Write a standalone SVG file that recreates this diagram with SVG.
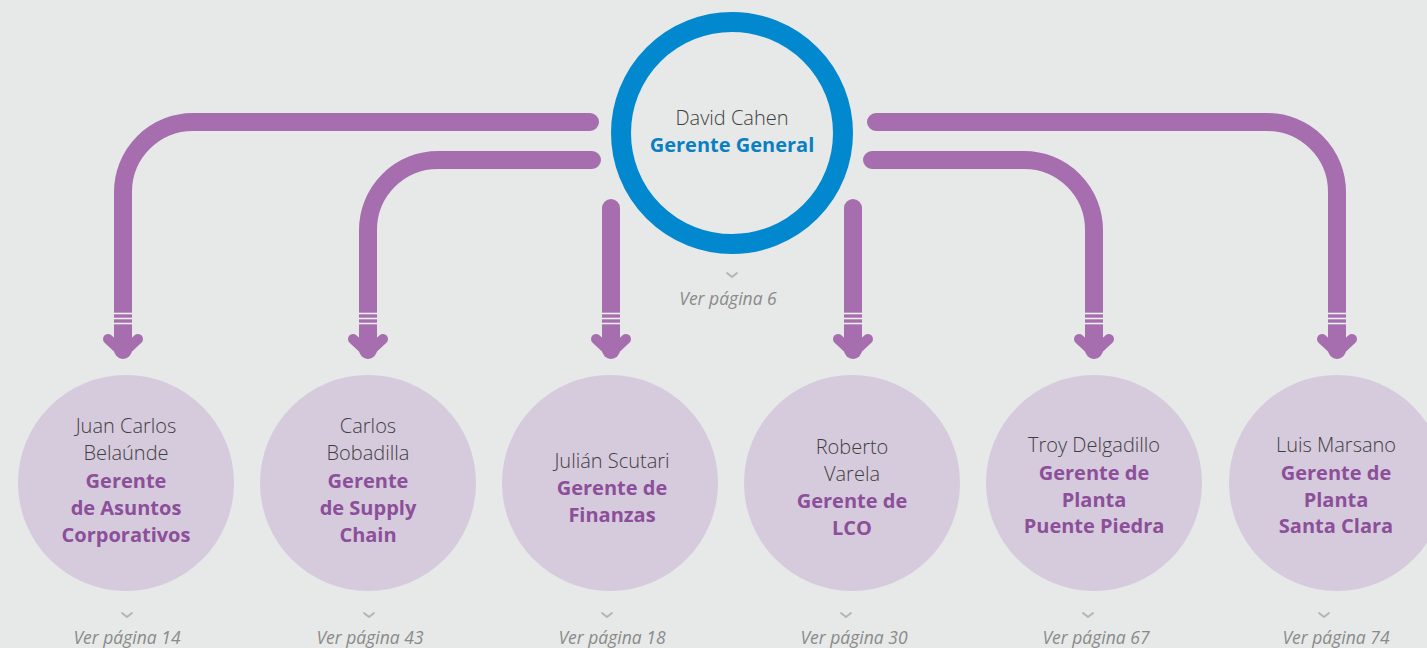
<svg xmlns="http://www.w3.org/2000/svg" width="1427" height="648" viewBox="0 0 1427 648">
<style>
.bg{fill:#e6e9e8}
.conn{fill:none;stroke:#a66eae;stroke-width:18;stroke-linecap:round;stroke-linejoin:round}
.head{fill:none;stroke:#a66eae;stroke-width:10;stroke-linecap:round;stroke-linejoin:round}
.stripe{stroke:#eef0ef;stroke-width:1.6}
.sub{fill:#d5c8dc;opacity:0.95}
.name{font-family:"Open Sans","Liberation Sans",sans-serif;font-weight:300;font-size:20px;fill:#3f3f3f;text-anchor:middle}
.title{font-family:"Open Sans","Liberation Sans",sans-serif;font-weight:700;font-size:20px;fill:#8c4f99;text-anchor:middle}
.gm{font-family:"Open Sans","Liberation Sans",sans-serif;font-weight:700;font-size:20px;fill:#0a7fc2;text-anchor:middle}
.ref{font-family:"Open Sans","Liberation Sans",sans-serif;font-style:italic;font-size:17.5px;fill:#8a8a8a;text-anchor:middle}
.chev{fill:none;stroke:#b4b6b6;stroke-width:2;stroke-linecap:round;stroke-linejoin:round}
</style>
<defs>
<radialGradient id="tex" cx="0.5" cy="0.5" r="0.7">
<stop offset="0" stop-color="#eaecec"/>
<stop offset="1" stop-color="#e2e5e4"/>
</radialGradient>
<g id="arrowEnd">
<line class="stripe" x1="-9" y1="0" x2="9" y2="0"/>
<line class="stripe" x1="-9" y1="5" x2="9" y2="5"/>
<line class="stripe" x1="-9" y1="10" x2="9" y2="10"/>
</g>
</defs>
<rect class="bg" x="0" y="0" width="1427" height="648" fill="url(#tex)"/>

<g id="connectors">
<path class="conn" d="M590,122 H193 A70,70 0 0 0 123,192 V350"/>
<path class="conn" d="M592,160 H438 A70,70 0 0 0 368,230 V350"/>
<path class="conn" d="M611,208 V350"/>
<path class="conn" d="M853,208 V350"/>
<path class="conn" d="M872,160 H1024 A70,70 0 0 1 1094,230 V350"/>
<path class="conn" d="M876,122 H1267 A70,70 0 0 1 1337,192 V350"/>
<path class="head" d="M108,339 L123,353 L138,339"/>
<path class="head" d="M353,339 L368,353 L383,339"/>
<path class="head" d="M596,339 L611,353 L626,339"/>
<path class="head" d="M838,339 L853,353 L868,339"/>
<path class="head" d="M1079,339 L1094,353 L1109,339"/>
<path class="head" d="M1322,339 L1337,353 L1352,339"/>
<use href="#arrowEnd" x="123" y="313.5"/>
<use href="#arrowEnd" x="368" y="313.5"/>
<use href="#arrowEnd" x="611" y="313.5"/>
<use href="#arrowEnd" x="853" y="313.5"/>
<use href="#arrowEnd" x="1094" y="313.5"/>
<use href="#arrowEnd" x="1337" y="313.5"/>
</g>

<g id="gerente-general">
<circle cx="732" cy="133" r="111" fill="none" stroke="#0288cf" stroke-width="20"/>
<text class="name" x="732" y="125">David Cahen</text>
<text class="gm" x="732" y="152">Gerente General</text>
<path class="chev" d="M727,273 L732,277 L737,273"/>
<text class="ref" x="728" y="305">Ver página 6</text>
</g>

<g id="asuntos-corporativos">
<circle class="sub" cx="126" cy="483" r="108"/>
<text class="name" x="126" y="433">Juan Carlos</text>
<text class="name" x="126" y="460">Belaúnde</text>
<text class="title" x="126" y="488">Gerente</text>
<text class="title" x="126" y="515">de Asuntos</text>
<text class="title" x="126" y="542">Corporativos</text>
<path class="chev" d="M122,613 L127,617 L132,613"/>
<text class="ref" x="127" y="644">Ver página 14</text>
</g>

<g id="supply-chain">
<circle class="sub" cx="368" cy="483" r="108"/>
<text class="name" x="368" y="433">Carlos</text>
<text class="name" x="368" y="460">Bobadilla</text>
<text class="title" x="368" y="488">Gerente</text>
<text class="title" x="368" y="515">de Supply</text>
<text class="title" x="368" y="542">Chain</text>
<path class="chev" d="M364,613 L369,617 L374,613"/>
<text class="ref" x="370" y="644">Ver página 43</text>
</g>

<g id="finanzas">
<circle class="sub" cx="610" cy="483" r="108"/>
<text class="name" x="612" y="468">Julián Scutari</text>
<text class="title" x="612" y="495">Gerente de</text>
<text class="title" x="612" y="522">Finanzas</text>
<path class="chev" d="M602,613 L607,617 L612,613"/>
<text class="ref" x="612" y="644">Ver página 18</text>
</g>

<g id="lco">
<circle class="sub" cx="852" cy="483" r="108"/>
<text class="name" x="852" y="454">Roberto</text>
<text class="name" x="852" y="481">Varela</text>
<text class="title" x="852" y="508">Gerente de</text>
<text class="title" x="852" y="535">LCO</text>
<path class="chev" d="M841,613 L846,617 L851,613"/>
<text class="ref" x="854" y="644">Ver página 30</text>
</g>

<g id="puente-piedra">
<circle class="sub" cx="1094" cy="483" r="108"/>
<text class="name" x="1094" y="452">Troy Delgadillo</text>
<text class="title" x="1094" y="480">Gerente de</text>
<text class="title" x="1094" y="507">Planta</text>
<text class="title" x="1094" y="533">Puente Piedra</text>
<path class="chev" d="M1083,613 L1088,617 L1093,613"/>
<text class="ref" x="1096" y="644">Ver página 67</text>
</g>

<g id="santa-clara">
<circle class="sub" cx="1337" cy="483" r="108"/>
<text class="name" x="1336" y="452">Luis Marsano</text>
<text class="title" x="1336" y="480">Gerente de</text>
<text class="title" x="1336" y="507">Planta</text>
<text class="title" x="1336" y="533">Santa Clara</text>
<path class="chev" d="M1319,613 L1324,617 L1329,613"/>
<text class="ref" x="1336" y="644">Ver página 74</text>
</g>
</svg>
